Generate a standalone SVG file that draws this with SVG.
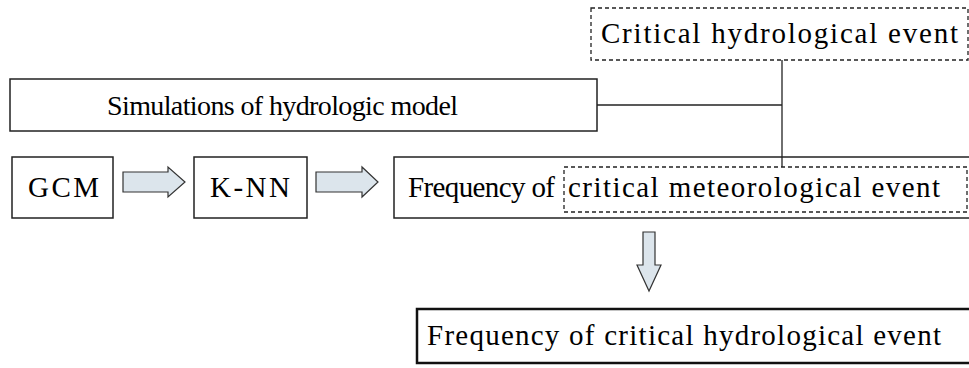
<svg xmlns="http://www.w3.org/2000/svg" width="969" height="368" viewBox="0 0 969 368">
<style>
.box{fill:#fff;stroke:#222;stroke-width:1.5}
.dash{fill:none;stroke:#222;stroke-width:1.3;stroke-dasharray:4 3}
.arr{fill:#dce5ec;stroke:#333;stroke-width:1.2}
.con{stroke:#222;stroke-width:1.3;fill:none}
</style>
<rect width="969" height="368" fill="#fff"/>
<g font-family="Liberation Serif, Times New Roman, serif" font-size="29" fill="#000">
<g id="sim">
<rect class="box" x="10" y="79" width="587" height="52"/>
<text x="107" y="115" font-size="28" textLength="351" lengthAdjust="spacing">Simulations of hydrologic model</text>
</g>
<g id="gcm">
<rect class="box" x="12" y="157" width="101" height="61"/>
<text x="28" y="197" textLength="71" lengthAdjust="spacing">GCM</text>
</g>
<g id="knn">
<rect class="box" x="194" y="157" width="113" height="61"/>
<text x="210" y="197" textLength="80" lengthAdjust="spacing">K-NN</text>
</g>
<g id="freqmet">
<rect class="box" x="394" y="157" width="590" height="61"/>
<text y="197"><tspan x="408" textLength="147" lengthAdjust="spacing">Frequency of</tspan><tspan x="568" textLength="372" lengthAdjust="spacing">critical meteorological event</tspan></text>
</g>
<g id="critmet">
<rect class="dash" x="564" y="167" width="403" height="45"/>
</g>
<g id="crithyd">
<rect class="dash" x="591" y="8" width="377" height="52"/>
<text x="601" y="43" textLength="357" lengthAdjust="spacing">Critical hydrological event</text>
</g>
<g id="freqhyd">
<rect x="417" y="309" width="570" height="54" fill="#fff" stroke="#111" stroke-width="2.5"/>
<text x="427" y="345" textLength="514" lengthAdjust="spacing">Frequency of critical hydrological event</text>
</g>
</g>
<g id="connectors">
<line class="con" x1="597" y1="105" x2="782" y2="105"/>
<line class="con" x1="782" y1="60" x2="782" y2="167"/>
<path class="arr" d="M123,172 H168 V167 L185,182 L168,197 V192 H123 Z"/>
<path class="arr" d="M316,172 H362 V167 L378,182 L362,197 V192 H316 Z"/>
<path class="arr" d="M643,232 H655 V265 H661 L649,291 L637,265 H643 Z"/>
</g>
</svg>
